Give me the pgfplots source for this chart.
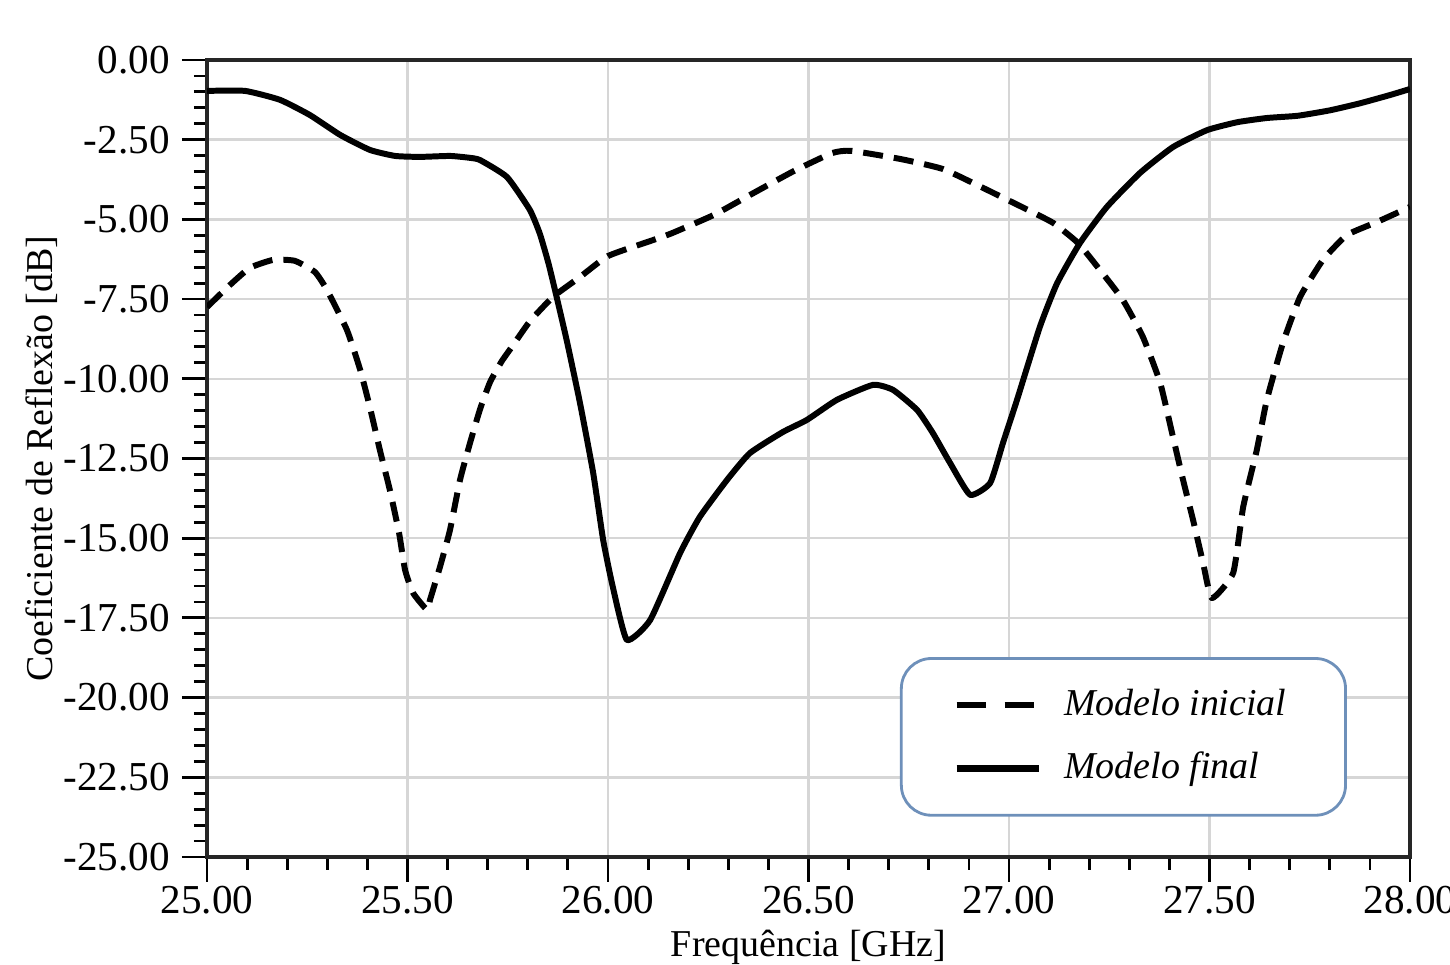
\documentclass[border=0pt]{standalone}
\usepackage{fontspec}
\setmainfont{Liberation Serif}
\usepackage{pgfplots}
\pgfplotsset{compat=1.18}
\usetikzlibrary{calc}
\definecolor{legblue}{RGB}{110,144,186}
\definecolor{gridgray}{RGB}{214,214,214}

\begin{document}
\begin{tikzpicture}
\begin{axis}[
    name=ax,
    scale only axis,
    width=12.03cm, height=7.97cm,
    xmin=25, xmax=28, ymin=-25, ymax=0,
    xtick={25,25.5,...,28},
    ytick={-25,-22.5,...,0},
    minor x tick num=4,
    minor y tick num=4,
    xtick pos=bottom, ytick pos=left,
    tick align=outside,
    major tick length=0.25cm,
    minor tick length=0.13cm,
    every tick/.style={black, line width=0.8pt},
    axis line style={black!85, line width=1pt},
    grid=major,
    major grid style={gridgray, line width=0.7pt},
    /pgf/number format/.cd, fixed, fixed zerofill, precision=2, assume math mode=true,
    /pgfplots/.cd,
    ticklabel style={font=\fontsize{11.7}{13}\selectfont},
    xticklabel style={yshift=0.08cm},
    xlabel={Frequência [GHz]},
    ylabel={Coeficiente de Reflexão [dB]},
    label style={font=\fontsize{10.8}{12}\selectfont},
    xlabel style={yshift=0.08cm},
    ylabel style={yshift=-0.18cm},
    legend style={at={(axis cs:26.728,-18.73)}, anchor=north west,
        draw=legblue, line width=0.8pt, rounded corners=0.3cm,
        inner xsep=0.52cm, inner ysep=0.24cm, row sep=0.17cm,
        font=\fontsize{10.8}{12}\selectfont\itshape,
        /tikz/every odd column/.append style={column sep=0.15cm}},
    legend cell align=left,
]
% Modelo inicial
\addplot[black, line width=1.7pt, dash pattern=on 2mm off 1.1mm, line join=round,
    smooth, tension=0.3,
    legend image code/.code={\draw[black, line width=1.7pt, dash pattern=on 2.9mm off 1.9mm] (0cm,0cm) -- (0.82cm,0cm);}]
coordinates {
(25.000,-7.75) (25.057,-7.06) (25.107,-6.52) (25.165,-6.27) (25.219,-6.30)
(25.269,-6.65) (25.299,-7.21) (25.349,-8.47) (25.382,-9.72) (25.406,-10.88)
(25.431,-12.23) (25.456,-13.49) (25.479,-14.84) (25.494,-16.00) (25.514,-16.72)
(25.549,-17.25) (25.556,-16.94) (25.581,-15.90) (25.606,-14.74) (25.631,-13.17)
(25.656,-12.01) (25.681,-10.95) (25.706,-10.10) (25.735,-9.45) (25.763,-8.95)
(25.805,-8.20) (25.863,-7.43) (25.930,-6.81) (26.000,-6.15) (26.112,-5.65)
(26.160,-5.43) (26.264,-4.86) (26.359,-4.20) (26.464,-3.48) (26.559,-2.92)
(26.606,-2.85) (26.731,-3.11) (26.835,-3.42) (26.930,-3.98) (27.032,-4.61)
(27.110,-5.11) (27.172,-5.74) (27.227,-6.59) (27.284,-7.53) (27.334,-8.69)
(27.377,-10.13) (27.409,-11.83) (27.434,-13.17) (27.459,-14.43) (27.484,-15.78)
(27.506,-16.88) (27.559,-16.09) (27.584,-14.02) (27.618,-12.23) (27.643,-10.66)
(27.683,-8.88) (27.726,-7.43) (27.783,-6.27) (27.843,-5.49) (27.918,-5.08)
(28.000,-4.61)
};
\addlegendentry{Modelo inicial}
% Modelo final
\addplot[black, line width=1.7pt, line join=round,
    smooth, tension=0.3,
    legend image code/.code={\draw[black, line width=1.9pt] (0cm,0cm) -- (0.82cm,0cm);}]
coordinates {
(25.000,-0.97) (25.095,-0.97) (25.182,-1.25) (25.257,-1.73) (25.332,-2.35)
(25.406,-2.82) (25.469,-3.01) (25.531,-3.04) (25.606,-3.01) (25.656,-3.07)
(25.681,-3.14) (25.748,-3.67) (25.805,-4.70) (25.830,-5.45) (25.852,-6.40)
(25.875,-7.60) (25.898,-8.85) (25.930,-10.75) (25.963,-12.95) (25.988,-15.06)
(26.012,-16.53) (26.047,-18.19) (26.105,-17.57) (26.180,-15.46) (26.229,-14.33)
(26.297,-13.17) (26.354,-12.33) (26.436,-11.67) (26.496,-11.29) (26.571,-10.66)
(26.661,-10.19) (26.711,-10.35) (26.771,-10.98) (26.810,-11.70) (26.853,-12.64)
(26.903,-13.64) (26.953,-13.27) (26.985,-12.01) (27.020,-10.66) (27.077,-8.37)
(27.120,-7.00) (27.177,-5.74) (27.244,-4.61) (27.327,-3.54) (27.409,-2.73)
(27.494,-2.20) (27.570,-1.95) (27.643,-1.82) (27.720,-1.75) (27.800,-1.58)
(27.875,-1.36) (27.950,-1.10) (28.000,-0.91)
};
\addlegendentry{Modelo final}
\end{axis}
\pgfresetboundingbox
\path[use as bounding box] ($(ax.south west)+(-2.07cm,-1.08cm)$) rectangle ($(ax.north east)+(0.40cm,0.60cm)$);
\end{tikzpicture}
\end{document}
